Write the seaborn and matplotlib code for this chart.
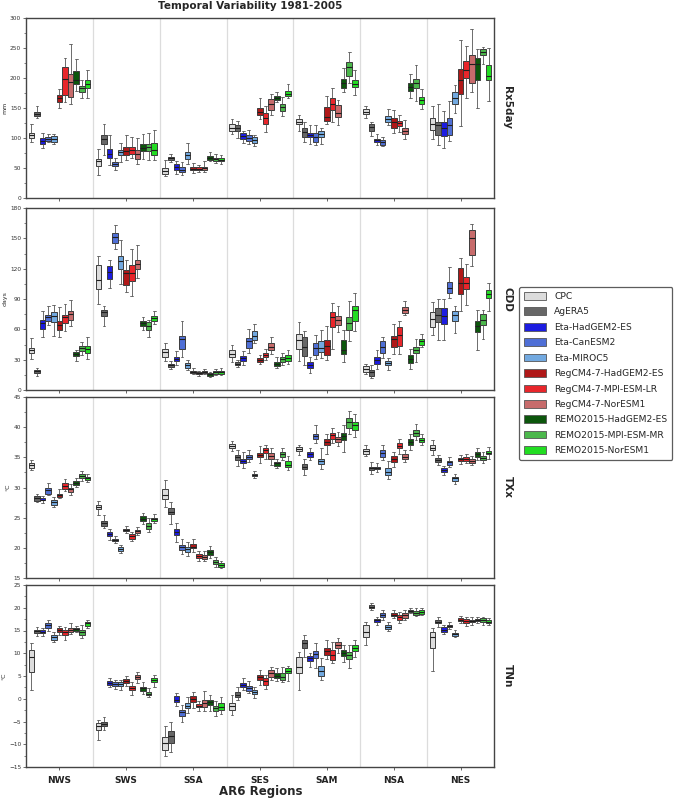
import numpy as np
import pandas as pd
import matplotlib
matplotlib.use("Agg")
import matplotlib.pyplot as plt
from matplotlib.patches import Patch
from matplotlib.ticker import MultipleLocator, AutoMinorLocator
import seaborn as sns

regions = ["NWS", "SWS", "SSA", "SES", "SAM", "NSA", "NES"]
models = ["CPC", "AgERA5", "Eta-HadGEM2-ES", "Eta-CanESM2", "Eta-MIROC5",
          "RegCM4-7-HadGEM2-ES", "RegCM4-7-MPI-ESM-LR", "RegCM4-7-NorESM1",
          "REMO2015-HadGEM2-ES", "REMO2015-MPI-ESM-MR", "REMO2015-NorESM1"]
colors = ["#dcdcdc", "#676767", "#1c1ce0", "#4f6fd6", "#72a9e0",
          "#b01818", "#e8262b", "#c76b6b",
          "#0c560c", "#4cb84c", "#22dd22"]

# each box: (whisker low, q1, median, q3, whisker high), one per model
# ---- Rx5day (mm)
rx5_nws = [(94, 100, 105, 109, 124), (133, 137, 140, 144, 153), (84, 90, 95, 100, 109),
           (93, 95, 99, 102, 107), (90, 93, 98, 103, 107), (150, 160, 167, 172, 181),
           (160, 171, 199, 219, 233), (157, 168, 193, 207, 256), (178, 190, 197, 212, 232),
           (167, 176, 183, 187, 196), (167, 183, 190, 196, 214)]
rx5_sws = [(39, 54, 61, 65, 81), (72, 90, 99, 105, 123), (55, 66, 73, 82, 105),
           (47, 53, 57, 60, 66), (60, 72, 77, 80, 92), (64, 72, 78, 85, 105),
           (66, 73, 80, 85, 101), (57, 65, 74, 80, 100), (65, 78, 84, 90, 107),
           (64, 78, 85, 90, 108), (64, 71, 80, 91, 114)]
rx5_ssa = [(36, 40, 45, 50, 64), (60, 64, 66, 69, 73), (40, 47, 51, 56, 62),
           (39, 43, 47, 51, 60), (57, 65, 72, 76, 92), (42, 46, 49, 52, 58),
           (44, 47, 49, 52, 55), (43, 46, 50, 52, 62), (61, 63, 67, 70, 76),
           (59, 62, 65, 67, 74), (57, 61, 63, 66, 71)]
rx5_ses = [(106, 112, 117, 123, 132), (100, 112, 117, 122, 128), (91, 98, 103, 108, 112),
           (90, 95, 100, 105, 113), (86, 92, 96, 101, 105), (132, 138, 144, 150, 167),
           (110, 124, 133, 141, 153), (138, 147, 156, 165, 174), (160, 164, 167, 170, 177),
           (137, 145, 151, 157, 168), (166, 170, 174, 178, 190)]
rx5_sam = [(112, 123, 127, 131, 138), (94, 101, 110, 116, 127), (90, 101, 105, 109, 121),
           (88, 94, 102, 109, 121), (90, 101, 106, 112, 117), (123, 129, 135, 152, 170),
           (126, 146, 157, 167, 183), (122, 135, 142, 155, 163), (177, 183, 192, 199, 217),
           (192, 203, 218, 226, 243), (171, 185, 190, 197, 214)]
rx5_nsa = [(133, 140, 144, 148, 154), (104, 112, 118, 123, 127), (88, 93, 96, 99, 106),
           (87, 89, 93, 96, 101), (122, 127, 131, 136, 149), (108, 117, 126, 134, 146),
           (110, 120, 125, 129, 138), (98, 106, 112, 117, 130), (166, 178, 185, 191, 206),
           (161, 183, 192, 199, 222), (149, 157, 163, 168, 181)]
rx5_nes = [(99, 114, 123, 134, 154), (88, 105, 121, 126, 157), (83, 104, 116, 127, 145),
           (95, 105, 122, 134, 161), (142, 157, 167, 177, 189), (120, 173, 197, 215, 264),
           (166, 200, 214, 229, 253), (176, 192, 224, 239, 282), (150, 197, 224, 234, 249),
           (224, 238, 243, 248, 252), (162, 196, 204, 222, 250)]

# ---- CDD (days)
cdd_nws = [(31, 37, 40, 42, 51), (14, 16.5, 18.5, 20, 22), (52, 60, 66, 69, 78),
           (64, 68, 72, 74, 83), (53, 67, 73, 77, 84), (52, 59, 64, 68, 82),
           (58, 66, 72, 74, 85), (63, 69, 75, 78, 89), (29, 34, 36, 38, 40),
           (35, 39, 42, 44, 47), (31, 37, 41, 44, 52)]
cdd_sws = [(85, 100, 109, 124, 133), (63, 73, 77, 79, 83), (101, 110, 117, 123, 129),
           (139, 145, 151, 155, 163), (105, 120, 128, 133, 148), (97, 104, 116, 119, 129),
           (93, 108, 116, 124, 139), (111, 120, 125, 129, 143), (59, 63, 66, 68, 72),
           (52, 59, 63, 67, 69), (65, 68, 71, 73, 78)]
cdd_ssa = [(29, 33, 38, 41, 46), (21, 23, 25, 26, 29), (25, 29, 31, 33, 39),
           (33, 41, 50, 53, 68), (20, 22, 25, 27, 30), (15.5, 16.5, 18, 19, 21.5),
           (14, 15.5, 16.5, 17.5, 19), (15.5, 16.5, 18, 19, 21), (13, 14, 15.5, 16.5, 18),
           (15, 16, 17.5, 19, 21), (15, 16, 17.5, 19, 21.5)]
cdd_ses = [(28, 33, 36, 40, 45), (23, 25, 26, 28, 30), (25, 29, 32, 34, 39),
           (37, 42, 48, 51, 60), (46, 49, 53, 58, 65), (26, 28, 30, 32, 35),
           (30, 33, 35, 37, 41), (36, 40, 43, 46, 52), (22, 24, 26, 28, 33),
           (25, 28, 31, 33, 37), (26, 29, 32, 35, 40)]
cdd_sam = [(29, 41, 49, 55, 67), (25, 34, 43, 52, 58), (17, 22, 25, 28, 33),
           (31, 35, 42, 46, 54), (32, 38, 42, 48, 59), (30, 35, 44, 49, 63),
           (41, 62, 72, 77, 86), (57, 64, 69, 73, 83), (28, 36, 40, 49, 59),
           (48, 59, 66, 72, 88), (58, 68, 79, 83, 96)]
cdd_nsa = [(15.5, 18, 21, 24, 26), (11.5, 14, 17.5, 20, 25), (21, 26, 30, 33, 40),
           (32, 37, 43, 48, 52), (20, 25, 27, 29, 32), (36, 43, 50, 53, 65),
           (36, 44, 54, 62, 68), (74, 76, 79, 82, 88), (21, 27, 31, 35, 41),
           (28, 37, 40, 43, 50), (43, 45, 48, 50, 55)]
cdd_nes = [(54, 62, 70, 77, 87), (49, 67, 74, 81, 90), (49, 65, 73, 81, 90),
           (91, 96, 101, 107, 122), (56, 68, 74, 78, 83), (78, 95, 106, 121, 131),
           (84, 100, 106, 112, 125), (123, 134, 150, 158, 164), (40, 57, 63, 68, 79),
           (50, 64, 69, 75, 79), (78, 91, 95, 99, 106)]

# ---- TXx (degC)
txx_nws = [(32.9, 33.2, 33.7, 34.0, 34.5), (27.6, 27.8, 28.2, 28.6, 28.9), (27.4, 27.9, 28.0, 28.2, 28.6),
           (28.7, 29.0, 29.6, 30.0, 30.8), (26.8, 27.1, 27.6, 27.9, 28.4), (28.2, 28.5, 28.8, 29.0, 29.7),
           (29.5, 29.7, 30.3, 30.7, 31.4), (28.7, 29.3, 29.7, 30.0, 30.6), (30.1, 30.4, 30.7, 31.1, 31.5),
           (31.1, 31.5, 31.9, 32.3, 32.7), (30.9, 31.2, 31.5, 31.8, 32.2)]
txx_sws = [(25.5, 26.4, 26.7, 27.1, 27.8), (23.3, 23.7, 24.1, 24.5, 25.5), (21.3, 21.9, 22.3, 22.6, 23.2),
           (20.8, 21.2, 21.3, 21.5, 22.0), (19.1, 19.4, 19.8, 20.1, 20.5), (22.5, 22.8, 23.0, 23.2, 23.6),
           (21.1, 21.5, 21.9, 22.3, 22.7), (22.2, 22.5, 22.8, 23.0, 23.5), (24.0, 24.4, 24.8, 25.2, 25.7),
           (22.7, 23.2, 23.6, 24.1, 24.9), (24.1, 24.5, 24.7, 24.9, 25.6)]
txx_ssa = [(26.7, 28.1, 28.7, 29.7, 31.2), (24.0, 25.6, 26.0, 26.6, 27.6), (21.0, 22.1, 22.6, 23.2, 24.1),
           (18.9, 19.7, 20.1, 20.5, 21.5), (18.6, 19.3, 19.8, 20.2, 21.0), (19.3, 19.9, 20.2, 20.7, 21.4),
           (17.8, 18.3, 18.6, 18.9, 19.5), (17.8, 18.1, 18.5, 18.8, 19.4), (18.3, 18.8, 19.3, 19.7, 20.3),
           (16.8, 17.4, 17.7, 18.0, 18.5), (16.6, 16.9, 17.2, 17.5, 17.9)]
txx_ses = [(36.0, 36.6, 36.9, 37.2, 37.7), (33.6, 34.5, 35.0, 35.4, 36.2), (33.2, 34.0, 34.4, 34.8, 35.9),
           (34.2, 34.7, 35.1, 35.4, 36.2), (31.5, 31.9, 32.1, 32.3, 32.8), (34.0, 35.0, 35.4, 35.8, 36.9),
           (34.7, 35.8, 36.2, 36.6, 37.1), (33.7, 34.8, 35.3, 35.8, 36.6), (33.2, 33.6, 34.0, 34.3, 34.8),
           (34.5, 35.1, 35.5, 35.9, 36.5), (32.9, 33.4, 33.8, 34.4, 35.2)]
txx_sam = [(35.4, 36.0, 36.4, 36.7, 37.0), (32.1, 33.0, 33.4, 33.9, 34.7), (34.5, 35.0, 35.5, 35.9, 36.5),
           (37.3, 38.0, 38.5, 38.9, 40.3), (33.0, 33.9, 34.4, 34.8, 36.5), (35.6, 37.0, 37.6, 38.1, 38.9),
           (37.4, 38.0, 38.7, 39.1, 39.9), (36.9, 37.6, 38.0, 38.4, 39.2), (35.9, 37.8, 38.5, 39.1, 40.3),
           (38.9, 39.9, 40.9, 41.5, 42.6), (38.4, 39.6, 40.3, 40.9, 42.2)]
txx_nsa = [(35.2, 35.6, 36.0, 36.4, 37.0), (32.3, 32.9, 33.2, 33.4, 34.2), (32.6, 33.0, 33.2, 33.4, 34.0),
           (34.5, 35.1, 35.8, 36.2, 37.0), (31.4, 32.1, 32.6, 33.2, 34.4), (33.4, 34.3, 34.7, 35.2, 35.9),
           (35.6, 36.5, 36.9, 37.4, 38.1), (34.2, 34.7, 35.1, 35.5, 36.2), (36.2, 37.1, 37.6, 38.0, 38.9),
           (37.8, 38.5, 39.1, 39.6, 40.6), (37.0, 37.5, 37.8, 38.2, 38.9)]
txx_nes = [(35.4, 36.2, 36.6, 37.0, 37.8), (33.7, 34.2, 34.5, 34.9, 35.4), (32.1, 32.6, 32.9, 33.2, 33.6),
           (33.4, 33.8, 34.2, 34.4, 35.1), (30.6, 31.1, 31.5, 31.8, 32.3), (33.9, 34.4, 34.7, 34.9, 35.4),
           (34.0, 34.4, 34.7, 35.0, 35.5), (33.7, 34.1, 34.4, 34.7, 35.2), (34.5, 35.1, 35.5, 35.9, 36.5),
           (34.1, 34.5, 34.9, 35.3, 35.9), (34.7, 35.5, 35.8, 36.1, 36.7)]

# ---- TNn (degC)
tnn_nws = [(2.0, 5.9, 9.1, 10.8, 12.2), (13.8, 14.5, 14.9, 15.2, 15.7), (13.8, 14.4, 14.7, 15.1, 15.5),
           (14.9, 15.6, 16.1, 16.6, 17.3), (12.5, 13.0, 13.5, 14.0, 14.7), (14.0, 14.6, 15.1, 15.5, 16.0),
           (13.0, 14.1, 14.6, 15.1, 15.8), (14.2, 14.7, 15.2, 15.6, 16.6), (14.6, 14.9, 15.3, 15.6, 16.0),
           (13.4, 14.1, 14.6, 15.1, 16.3), (15.5, 16.0, 16.6, 16.9, 17.4)]
tnn_sws = [(-9.0, -6.9, -6.0, -5.4, -4.6), (-6.8, -6.0, -5.6, -5.2, -4.1), (2.6, 3.1, 3.5, 3.9, 4.5),
           (2.1, 2.8, 3.2, 3.6, 4.2), (2.0, 2.8, 3.2, 3.6, 4.2), (2.8, 3.4, 3.9, 4.3, 5.0),
           (0.8, 1.9, 2.4, 2.8, 3.7), (3.5, 4.3, 4.8, 5.2, 5.8), (1.0, 1.7, 2.3, 2.6, 3.7),
           (0.3, 0.8, 1.1, 1.4, 2.4), (2.6, 3.6, 4.1, 4.5, 5.2)]
tnn_ssa = [(-12.6, -11.2, -9.8, -8.5, -6.0), (-11.7, -9.8, -8.2, -7.1, -5.1), (-1.6, -0.8, -0.2, 0.6, 1.2),
           (-5.1, -3.8, -3.0, -2.4, -1.3), (-3.2, -2.1, -1.5, -0.9, 0.4), (-2.1, -0.7, 0.0, 0.7, 1.4),
           (-2.7, -1.9, -1.6, -1.2, -0.5), (-2.7, -1.8, -0.9, -0.3, 1.7), (-2.7, -1.3, -0.8, -0.3, 0.8),
           (-3.8, -2.7, -2.1, -1.5, -0.5), (-3.4, -2.5, -1.8, -1.0, 0.4)]
tnn_ses = [(-3.6, -2.4, -1.6, -1.0, 0.8), (-0.3, 0.4, 0.9, 1.4, 2.6), (2.0, 2.6, 3.1, 3.5, 4.6),
           (1.2, 1.7, 2.3, 2.8, 3.9), (0.1, 1.0, 1.4, 1.9, 2.6), (3.0, 4.1, 4.7, 5.3, 6.3),
           (2.1, 3.1, 3.9, 4.6, 5.3), (4.1, 4.8, 5.6, 6.3, 7.0), (3.9, 4.6, 5.0, 5.6, 6.7),
           (3.7, 4.2, 4.8, 5.6, 6.9), (3.9, 5.6, 6.1, 6.7, 7.2)]
tnn_sam = [(2.0, 5.7, 6.9, 9.1, 10.3), (9.1, 11.1, 12.2, 13.0, 14.1), (6.9, 8.3, 8.9, 9.4, 10.0),
           (6.7, 9.0, 9.9, 10.5, 12.3), (4.1, 5.0, 6.1, 7.2, 8.9), (8.7, 9.6, 10.5, 11.1, 13.0),
           (7.8, 8.6, 9.6, 10.7, 12.5), (10.1, 11.2, 11.9, 12.5, 13.3), (8.1, 9.4, 10.1, 10.7, 11.8),
           (6.8, 8.7, 9.7, 10.3, 11.8), (9.2, 10.5, 11.2, 11.9, 12.9)]
tnn_nsa = [(11.8, 13.6, 14.7, 16.2, 16.9), (19.4, 19.9, 20.2, 20.6, 21.1), (16.3, 16.9, 17.3, 17.6, 18.0),
           (17.3, 17.9, 18.4, 18.8, 19.6), (14.9, 15.3, 15.8, 16.2, 16.9), (17.7, 18.2, 18.5, 18.9, 19.4),
           (16.6, 17.4, 18.0, 18.5, 19.1), (17.4, 17.8, 18.3, 18.8, 19.4), (18.8, 19.0, 19.3, 19.6, 19.9),
           (18.2, 18.5, 18.9, 19.3, 19.9), (18.4, 18.6, 19.0, 19.4, 20.0)]
tnn_nes = [(6.1, 11.1, 13.5, 14.6, 15.5), (15.8, 16.6, 16.9, 17.4, 17.9), (14.2, 14.7, 15.2, 15.7, 16.2),
           (15.3, 15.7, 16.0, 16.3, 16.8), (13.5, 13.9, 14.2, 14.5, 15.1), (16.7, 17.1, 17.4, 17.7, 18.2),
           (16.0, 16.7, 17.1, 17.5, 18.0), (16.3, 16.8, 17.1, 17.4, 18.0), (16.7, 17.1, 17.3, 17.5, 18.0),
           (16.3, 16.8, 17.2, 17.7, 18.0), (16.2, 16.6, 16.9, 17.3, 17.8)]

panel_names = ["Rx5day", "CDD", "TXx", "TNn"]
panel_units = ["mm", "days", "°C", "°C"]
panel_ylims = [(0, 300), (0, 180), (15, 45), (-15, 25)]
panel_ysteps = [50, 30, 5, 5]
panel_boxes = [
    [rx5_nws, rx5_sws, rx5_ssa, rx5_ses, rx5_sam, rx5_nsa, rx5_nes],
    [cdd_nws, cdd_sws, cdd_ssa, cdd_ses, cdd_sam, cdd_nsa, cdd_nes],
    [txx_nws, txx_sws, txx_ssa, txx_ses, txx_sam, txx_nsa, txx_nes],
    [tnn_nws, tnn_sws, tnn_ssa, tnn_ses, tnn_sam, tnn_nsa, tnn_nes],
]


def to_long(boxes_by_region):
    # 5 values per box -> quartiles land exactly on q1/median/q3, whis=(0,100) gives the ends
    rows = []
    for reg, boxes in zip(regions, boxes_by_region):
        for mod, five in zip(models, boxes):
            for v in five:
                rows.append((reg, mod, v))
    return pd.DataFrame(rows, columns=["region", "model", "value"])


sns.set_theme(style="white")
plt.rcParams["font.family"] = ["DejaVu Sans"]

fig = plt.figure(figsize=(6.85, 7.99), dpi=100)

# axes boxes in pixels (top, bottom) of the 685x799 figure
W, H = 685.0, 799.0
ax_left, ax_right = 26, 494
panel_rows = [(18, 198), (208, 390), (397, 578), (585, 767)]

for i, (name, unit, ylim, step, boxes) in enumerate(
        zip(panel_names, panel_units, panel_ylims, panel_ysteps, panel_boxes)):
    top, bot = panel_rows[i]
    ax = fig.add_axes([ax_left / W, 1 - bot / H, (ax_right - ax_left) / W, (bot - top) / H])
    df = to_long(boxes)

    for k in range(len(regions) - 1):
        ax.axvline(k + 0.5, color="#dcdcdc", lw=0.9, zorder=0)

    sns.boxplot(data=df, x="region", y="value", hue="model", order=regions,
                hue_order=models, palette=colors, saturation=1, whis=(0, 100),
                width=0.92, linewidth=0.7, linecolor="#3c3c3c", fliersize=0,
                legend=False, ax=ax,
                medianprops=dict(color="#1e1e1e", linewidth=0.8),
                whiskerprops=dict(color="#555555", linewidth=0.6),
                capprops=dict(color="#555555", linewidth=0.6))

    ax.set_xlim(-0.5, len(regions) - 0.5)
    ax.set_ylim(*ylim)
    ax.yaxis.set_major_locator(MultipleLocator(step))
    ax.yaxis.set_minor_locator(AutoMinorLocator(2))
    ax.tick_params(axis="y", which="major", labelsize=4.2, length=2.5, width=0.5,
                   colors="#333333", pad=1, left=True)
    ax.tick_params(axis="y", which="minor", length=1.5, width=0.4, left=True)
    ax.tick_params(axis="x", length=2.5, width=0.5, bottom=True, pad=4)
    ax.set_ylabel(unit, fontsize=4.5, labelpad=2)
    ax.set_xlabel("")
    if i < 3:
        ax.set_xticklabels([])
    else:
        ax.set_xticklabels(regions, fontsize=6.5, fontweight="bold", color="#222222")
    for sp in ax.spines.values():
        sp.set_color("#444444")
        sp.set_linewidth(1.0)
    ax.text(1.018, 0.5, name, transform=ax.transAxes, rotation=-90, ha="left",
            va="center", fontsize=7.5, fontweight="bold")

fig.text(0.365, 0.992, "Temporal Variability 1981-2005", ha="center", va="center",
         fontsize=7.5, fontweight="bold")
fig.text(0.38, 0.01, "AR6 Regions", ha="center", va="center", fontsize=8.5,
         fontweight="bold")

handles = [Patch(facecolor=c, edgecolor="#555555", linewidth=0.6, label=m)
           for c, m in zip(colors, models)]
leg = fig.legend(handles=handles, loc="upper left", bbox_to_anchor=(519 / W, 1 - 287 / H),
                 fontsize=6.6, frameon=True, fancybox=True, edgecolor="#333333",
                 handlelength=2.4, handleheight=0.9, labelspacing=0.7,
                 borderpad=0.55, borderaxespad=0, handletextpad=0.9)
leg.get_frame().set_linewidth(0.9)

fig.savefig("out.png", dpi=100)
